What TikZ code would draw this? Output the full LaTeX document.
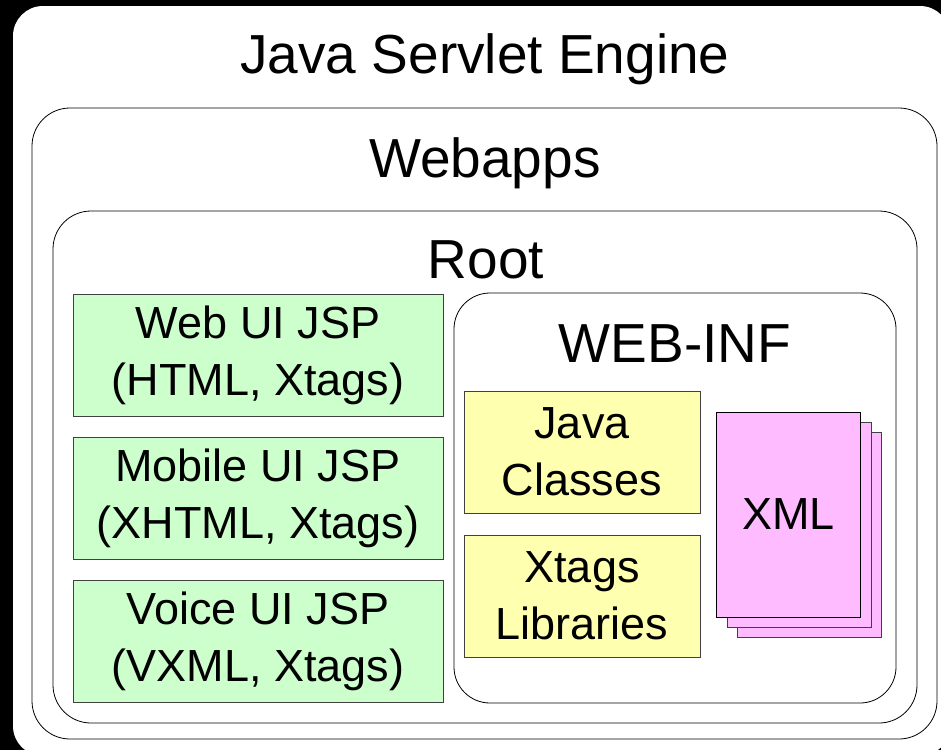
\documentclass[tikz,border=0pt]{standalone}
\usepackage{fontspec}
\setmainfont{Liberation Sans}
\usetikzlibrary{positioning}

\definecolor{jspgreen}{RGB}{204,255,204}
\definecolor{libyellow}{RGB}{255,255,176}
\definecolor{xmlpink}{RGB}{255,187,255}

\tikzset{
  title/.style={anchor=base, inner sep=0, font=\fontsize{55}{66}\selectfont},
  frame/.style={draw, line width=0.8pt, fill=white, rounded corners=38pt},
  jspbox/.style={draw=black!75, line width=0.8pt, fill=jspgreen, minimum width=370pt, minimum height=122pt, inner sep=0, align=center, font=\fontsize{45}{57}\selectfont},
  libbox/.style={jspbox, fill=libyellow, minimum width=236pt},
  page/.style={draw=black!75, line width=0.8pt, fill=xmlpink, minimum width=144pt, minimum height=205pt, inner sep=0, font=\fontsize{45}{57}\selectfont},
}

\begin{document}
\begin{tikzpicture}[x=1pt,y=1pt,yscale=-1]
%set diagram to 941 x 750, black behind the outer frame
\fill[black] (0,0) rectangle (941,750);
\useasboundingbox (0,0) rectangle (941,750);
\clip (0,0) rectangle (941,750);

%Shape: Engine frame
\fill[white, rounded corners=30pt] (13,6) rectangle (950,756);
%Shape: Webapps frame
\draw[frame] (32,108) rectangle (937,739);
%Shape: Root frame
\draw[frame] (53,211) rectangle (917,723);
%Shape: WEB-INF frame
\draw[frame, rounded corners=36pt] (454,293) rectangle (896,703);

% Text Node
\node[title] (engine) at (485,73) {Java Servlet Engine};
% Text Node
\node[title] (webapps) at (485,177) {Webapps};
% Text Node
\node[title] (root) at (486,278) {Root};
% Text Node
\node[title] (webinf) at (675,362) {WEB-INF};

%Shape: JSP boxes
\node[jspbox] (webui) at (258,355) {Web UI JSP\\(HTML, Xtags)};
\node[jspbox] (mobileui) at (258,498.5) {Mobile UI JSP\\(XHTML, Xtags)};
\node[jspbox] (voiceui) at (258,641.5) {Voice UI JSP\\(VXML, Xtags)};

%Shape: WEB-INF boxes
\node[libbox] (classes) at (582,452) {Java\\Classes};
\node[libbox] (xtagslib) at (582,596) {Xtags\\Libraries};

%Shape: XML page stack
\node[page] (xmlback) at (809,534.5) {};
\node[page] (xmlmid) at (799,524.5) {};
\node[page, draw=black] (xml) at (788.5,514.5) {XML};

\end{tikzpicture}
\end{document}
